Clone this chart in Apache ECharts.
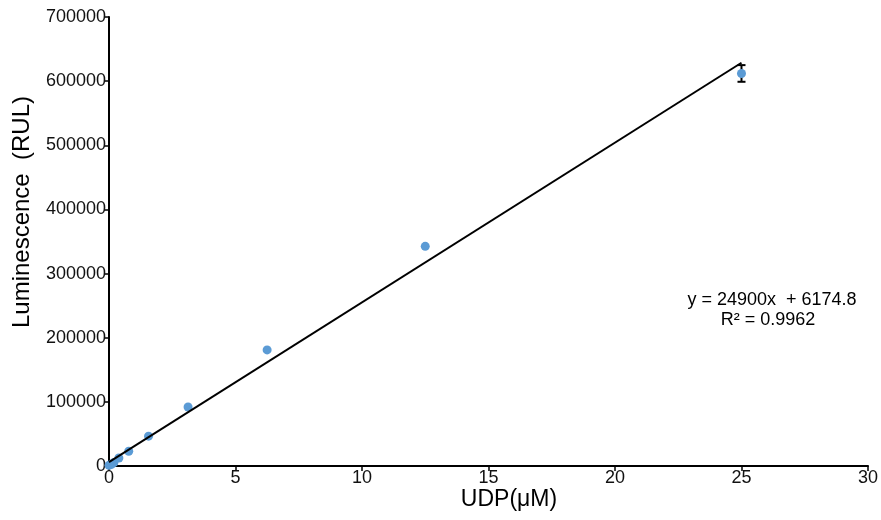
<!DOCTYPE html>
<html lang="en">
<head>
    <meta charset="UTF-8">
    <title>UDP standard curve</title>
    <script src="https://cdn.jsdelivr.net/npm/echarts@6.0.0/dist/echarts.min.js"></script>
    <style>
      body { margin: 0; background: #fff; }
    </style>
</head>
<body>
    <div id="main" style="width: 881px; height: 520px"></div>
    <script type="text/javascript">

      // UDP concentration (uM) and luminescence readings
      const udpConc = [0, 0.098, 0.195, 0.39, 0.78, 1.5625, 3.125, 6.25, 12.5, 25];
      const luminescence = [1000, 2500, 5500, 12500, 23000, 46500, 92000, 181000, 342500, 612000];
      const errorSize = [0, 0, 0, 0, 0, 0, 0, 0, 0, 13000];

      // linear trendline endpoints (y = 24900x + 6174.8)
      const trendX = [0, 25];
      const trendY = [6174.8, 628674.8];

      const xTicks = [0, 5, 10, 15, 20, 25, 30];
      const yTicks = [0, 100000, 200000, 300000, 400000, 500000, 600000, 700000];

      const equationText = "y = 24900x  + 6174.8";
      const r2Text = "R² = 0.9962";

      let myChart = echarts.init(document.getElementById("main"));

      const font = "Liberation Sans, Arial, sans-serif";

      let points = udpConc.map((x, i) => [x, luminescence[i]]);
      // only points with a visible error bar
      let errData = [];
      udpConc.forEach((x, i) => {
        if (errorSize[i] > 0) {
          errData.push([x, luminescence[i] - errorSize[i], luminescence[i] + errorSize[i]]);
        }
      });
      let trendData = trendX.map((x, i) => [x, trendY[i]]);

      let options = {
        animation: false,
        grid: { left: 109, right: 12, top: 17, bottom: 54 },
        xAxis: {
          type: "value",
          min: xTicks[0],
          max: xTicks[xTicks.length - 1],
          interval: 5,
          splitLine: { show: false },
          axisLine: { onZero: false, lineStyle: { color: "#000", width: 2 } },
          axisTick: { show: true, length: 5, lineStyle: { color: "#000", width: 1.5 } },
          axisLabel: { color: "#111", fontSize: 18, fontFamily: font, margin: 3 }
        },
        yAxis: {
          type: "value",
          min: yTicks[0],
          max: yTicks[yTicks.length - 1],
          interval: 100000,
          splitLine: { show: false },
          axisLine: { show: true, onZero: false, lineStyle: { color: "#000", width: 2 } },
          axisTick: { show: true, length: 5, lineStyle: { color: "#000", width: 1.5 } },
          axisLabel: {
            color: "#111", fontSize: 18, fontFamily: font, margin: 3,
            formatter: (v) => String(v)
          }
        },
        graphic: [
          {
            type: "text",
            x: 22, y: 212,
            rotation: Math.PI / 2,
            style: {
              text: "Luminescence  (RUL)",
              fill: "#000",
              font: "24px " + font,
              textAlign: "center",
              textVerticalAlign: "middle"
            }
          },
          {
            type: "text",
            x: 509, y: 500,
            style: {
              text: "UDP(μM)",
              fill: "#000",
              font: "23px " + font,
              textAlign: "center",
              textVerticalAlign: "middle"
            }
          },
          {
            type: "text",
            x: 772, y: 300,
            style: {
              text: equationText,
              fill: "#000",
              font: "18px " + font,
              textAlign: "center",
              textVerticalAlign: "middle"
            }
          },
          {
            type: "text",
            x: 768, y: 320,
            style: {
              text: r2Text,
              fill: "#000",
              font: "18px " + font,
              textAlign: "center",
              textVerticalAlign: "middle"
            }
          }
        ],
        series: [
          {
            name: "Error",
            type: "custom",
            data: errData,
            z: 2,
            renderItem: function (params, api) {
              let x = api.value(0);
              let lo = api.coord([x, api.value(1)]);
              let hi = api.coord([x, api.value(2)]);
              let w = 4;
              let style = { stroke: "#000", lineWidth: 2 };
              return {
                type: "group",
                children: [
                  { type: "line", shape: { x1: lo[0], y1: lo[1], x2: hi[0], y2: hi[1] }, style: style },
                  { type: "line", shape: { x1: lo[0] - w, y1: lo[1], x2: lo[0] + w, y2: lo[1] }, style: style },
                  { type: "line", shape: { x1: hi[0] - w, y1: hi[1], x2: hi[0] + w, y2: hi[1] }, style: style }
                ]
              };
            }
          },
          {
            name: "Luminescence",
            type: "scatter",
            data: points,
            symbolSize: 9,
            z: 3,
            itemStyle: { color: "#5B9BD5", opacity: 1 }
          },
          {
            name: "Linear",
            type: "line",
            data: trendData,
            showSymbol: false,
            symbol: "none",
            z: 4,
            lineStyle: { color: "#000", width: 2 }
          }
        ]
      };

      myChart.setOption(options);

    </script>
</body>
</html>
